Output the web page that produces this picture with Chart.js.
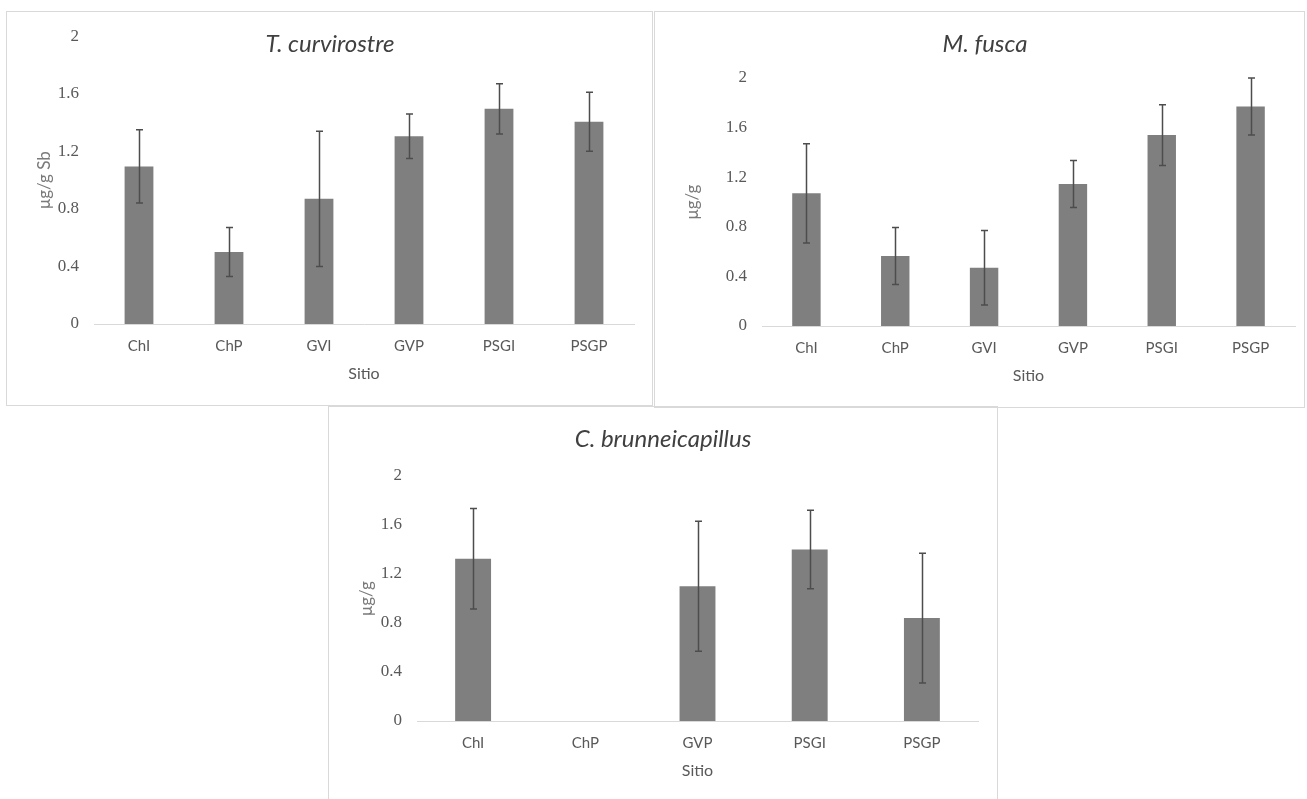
<!DOCTYPE html>
<html>
<head>
<meta charset="utf-8">
<script src="https://cdn.jsdelivr.net/npm/chart.js@4"></script>
<style>
  html, body { margin: 0; padding: 0; background: #fff; width: 1307px; height: 799px; overflow: hidden; }
  .panel { position: absolute; box-shadow: inset 0 0 0 1px #d9d9d9; }
  .panel canvas { position: absolute; left: 0; top: 0; }
  .title { position: absolute; transform: translate(-50%, -50%); font-family: Lato, "Open Sans", sans-serif;
           font-style: italic; font-size: 24px; color: #404040; white-space: nowrap; }
</style>
</head>
<body>
<div class="panel" style="left:6px;top:11px;width:647px;height:395px"><canvas id="c1" width="647" height="395"></canvas></div>
<div class="panel" style="left:654px;top:11px;width:651px;height:397px"><canvas id="c2" width="651" height="397"></canvas></div>
<div class="panel" style="left:328px;top:406px;width:670px;height:394px"><canvas id="c3" width="670" height="394"></canvas></div>
<div class="title" style="left:330px;top:42px">T. curvirostre</div>
<div class="title" style="left:985px;top:42px">M. fusca</div>
<div class="title" style="left:663px;top:437px">C. brunneicapillus</div>
<script>
// sites
const sites6 = ["ChI", "ChP", "GVI", "GVP", "PSGI", "PSGP"]
const sites5 = ["ChI", "ChP", "GVP", "PSGI", "PSGP"]

// T. curvirostre
const curvMeans = [1.095, 0.50, 0.87, 1.305, 1.495, 1.405]
const curvErr = [0.255, 0.17, 0.47, 0.155, 0.175, 0.205]

// M. fusca
const fuscaMeans = [1.07, 0.565, 0.47, 1.145, 1.54, 1.77]
const fuscaErr = [0.40, 0.23, 0.30, 0.19, 0.245, 0.23]

// C. brunneicapillus (no sample for ChP)
const brunnMeans = [1.325, null, 1.10, 1.40, 0.84]
const brunnErr = [0.41, null, 0.53, 0.32, 0.53]

const yTicks = [0, 0.4, 0.8, 1.2, 1.6, 2]
const yTickLabels = ["0", "0.4", "0.8", "1.2", "1.6", "2"]

const textGray = "#595959"

const errorBars = {
    id: "errorBars",
    afterDatasetsDraw(chart) {
        const ds = chart.data.datasets[0]
        const meta = chart.getDatasetMeta(0)
        const y = chart.scales.y
        const ctx = chart.ctx
        ctx.save()
        ctx.strokeStyle = "#4d4d4d"
        ctx.lineWidth = 1.5
        meta.data.forEach((bar, i) => {
            const m = ds.data[i]
            const e = ds.errors[i]
            if (m == null || e == null) return
            const top = y.getPixelForValue(m + e)
            const bot = y.getPixelForValue(m - e)
            const x = Math.round(bar.x) + 0.5
            ctx.beginPath()
            ctx.moveTo(x, top)
            ctx.lineTo(x, bot)
            ctx.moveTo(x - 3.5, top)
            ctx.lineTo(x + 3.5, top)
            ctx.moveTo(x - 3.5, bot)
            ctx.lineTo(x + 3.5, bot)
            ctx.stroke()
        })
        ctx.restore()
    }
}

function makeChart(id, labels, means, errs, yTitle, box) {
    const ctx = document.getElementById(id).getContext("2d")
    return new Chart(ctx, {
        type: "bar",
        data: {
            labels,
            datasets: [{
                data: means,
                errors: errs,
                backgroundColor: "#7f7f7f",
                categoryPercentage: 1,
                barPercentage: 0.32
            }]
        },
        options: {
            responsive: false,
            animation: false,
            layout: { padding: { top: box.top, right: box.right, bottom: 0, left: 0 } },
            plugins: { legend: { display: false }, tooltip: { enabled: false } },
            scales: {
                x: {
                    grid: { display: false, drawTicks: false },
                    border: { color: "#d9d9d9", width: 1 },
                    ticks: { color: textGray, padding: 13, font: { family: "Lato", size: 15 } },
                    title: { display: true, text: "Sitio", color: textGray,
                             font: { family: "Lato", size: 16 }, padding: { top: 0, bottom: box.sitio } },
                    afterFit: (s) => { s.height = box.xh }
                },
                y: {
                    min: 0,
                    max: 2,
                    afterBuildTicks: (s) => { s.ticks = yTicks.map((v) => ({ value: v })) },
                    grid: { display: false, drawTicks: false },
                    border: { display: false },
                    ticks: {
                        color: textGray,
                        padding: 15,
                        font: { family: "Liberation Serif", size: 17 },
                        callback: (v) => yTickLabels[yTicks.indexOf(v)]
                    },
                    title: { display: true, text: yTitle, color: "#7a7a7a",
                             font: { family: "Lato", size: 17 }, padding: { top: 28, bottom: 0 } },
                    afterFit: (s) => { s.width = box.yw }
                }
            }
        },
        plugins: [errorBars]
    })
}

makeChart("c1", sites6, curvMeans, curvErr, "μg/g Sb", { top: 19, right: 19, xh: 82, yw: 88, sitio: 23 })
makeChart("c2", sites6, fuscaMeans, fuscaErr, "μg/g", { top: 67, right: 10, xh: 82, yw: 108, sitio: 23 })
makeChart("c3", sites5, brunnMeans, brunnErr, "μg/g", { top: 70, right: 20, xh: 79, yw: 89, sitio: 20 })
</script>
</body>
</html>
